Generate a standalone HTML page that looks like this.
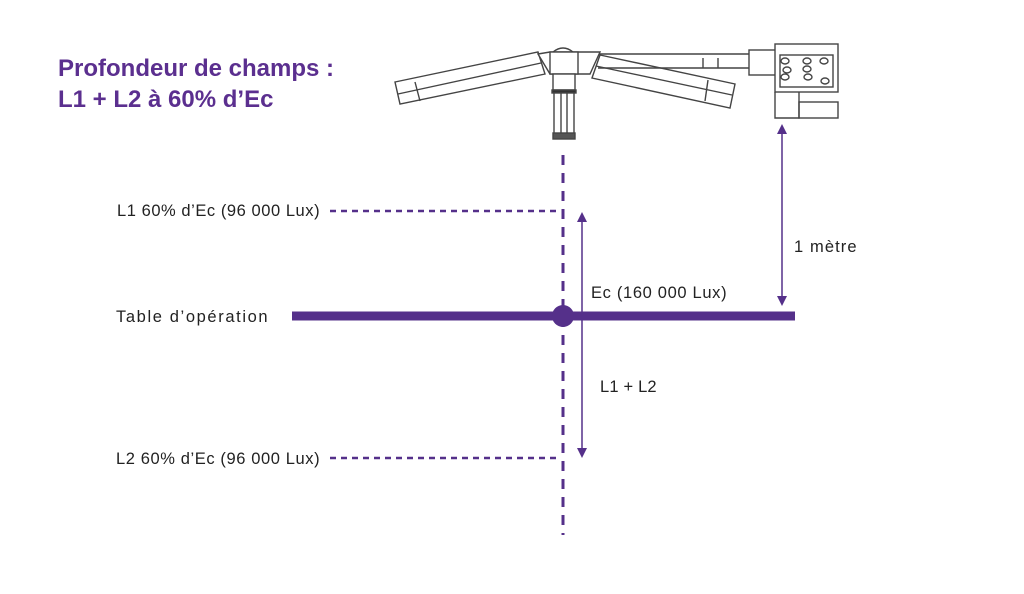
<!DOCTYPE html>
<html><head><meta charset="utf-8"><style>
body{margin:0;background:#fff;width:1024px;height:589px;overflow:hidden;font-family:"Liberation Sans",sans-serif}
</style></head><body>
<svg width="1024" height="589" viewBox="0 0 1024 589" xmlns="http://www.w3.org/2000/svg">
<text x="58" y="76" font-size="24" font-weight="bold" fill="#5b2f8f" font-family="Liberation Sans">Profondeur de champs :</text>
<text x="58" y="107" font-size="24" font-weight="bold" fill="#5b2f8f" font-family="Liberation Sans">L1 + L2 à 60% d’Ec</text>
<g fill="none" stroke="#444" stroke-width="1.4">
<polygon points="395,82 538,52 545,74 400,104" fill="#fff"/>
<line x1="398" y1="94" x2="541" y2="63"/>
<line x1="415" y1="82" x2="420" y2="101"/>
<polygon points="600,55 735,84 730,108 592,78" fill="#fff"/>
<line x1="596" y1="66" x2="732" y2="95"/>
<line x1="708" y1="80" x2="705" y2="101"/>
<line x1="598" y1="54" x2="750" y2="54"/>
<line x1="598" y1="68" x2="750" y2="68"/>
<line x1="703" y1="58" x2="703" y2="68"/><line x1="718" y1="58" x2="718" y2="68"/>
<rect x="749" y="50" width="27" height="25" fill="#fff"/>
<polygon points="538,54 550,52 600,52 590,74 550,74" fill="#fff"/>
<rect x="550" y="52" width="28" height="22" fill="#fff"/>
<path d="M553 52 q10 -8 20 0"/>
<rect x="553" y="74" width="22" height="16" fill="#fff"/>
<rect x="552" y="90" width="24" height="3" fill="#333"/>
<rect x="554" y="93" width="20" height="44" fill="#fff"/>
<line x1="561" y1="93" x2="561" y2="137"/><line x1="567" y1="93" x2="567" y2="137"/>
<rect x="553" y="133" width="22" height="6" fill="#555"/>
<rect x="775" y="44" width="63" height="48" fill="#fff"/>
<rect x="780" y="55" width="53" height="32"/>
<ellipse cx="785" cy="61" rx="4" ry="3"/><ellipse cx="807" cy="61" rx="4" ry="3"/><ellipse cx="824" cy="61" rx="4" ry="3"/>
<ellipse cx="787" cy="70" rx="4" ry="3"/><ellipse cx="807" cy="69" rx="4" ry="3"/>
<ellipse cx="785" cy="77" rx="4" ry="3"/><ellipse cx="808" cy="77" rx="4" ry="3"/><ellipse cx="825" cy="81" rx="4" ry="3"/>
<polyline points="775,92 775,118 799,118 799,92"/>
<rect x="799" y="102" width="39" height="16"/>
</g>
<g stroke="#55308a" fill="#55308a">
<line x1="563" y1="155" x2="563" y2="535" stroke-width="3" stroke-dasharray="10,8"/>
<line x1="330" y1="211" x2="560" y2="211" stroke-width="2.5" stroke-dasharray="6,5"/>
<line x1="330" y1="458" x2="560" y2="458" stroke-width="2.5" stroke-dasharray="6,5"/>
<line x1="292" y1="316" x2="795" y2="316" stroke-width="9"/>
<circle cx="563" cy="316" r="11" stroke="none"/>
<line x1="582" y1="220" x2="582" y2="450" stroke-width="1.5"/>
<polygon points="582,212 577,222 587,222" stroke="none"/>
<polygon points="582,458 577,448 587,448" stroke="none"/>
<line x1="782" y1="132" x2="782" y2="300" stroke-width="1.5"/>
<polygon points="782,124 777,134 787,134" stroke="none"/>
<polygon points="782,306 777,296 787,296" stroke="none"/>
</g>
<g font-size="16.5" fill="#222" font-family="Liberation Sans" letter-spacing="0.4">
<text x="117" y="216" textLength="203">L1 60% d’Ec (96 000 Lux)</text>
<text x="116" y="322" textLength="152">Table d’opération</text>
<text x="116" y="464" textLength="204">L2 60% d’Ec (96 000 Lux)</text>
<text x="591" y="298" textLength="136">Ec (160 000 Lux)</text>
<text x="794" y="252" textLength="63">1 mètre</text>
<text x="600" y="392" textLength="57">L1 + L2</text>
</g>
</svg>
</body></html>
